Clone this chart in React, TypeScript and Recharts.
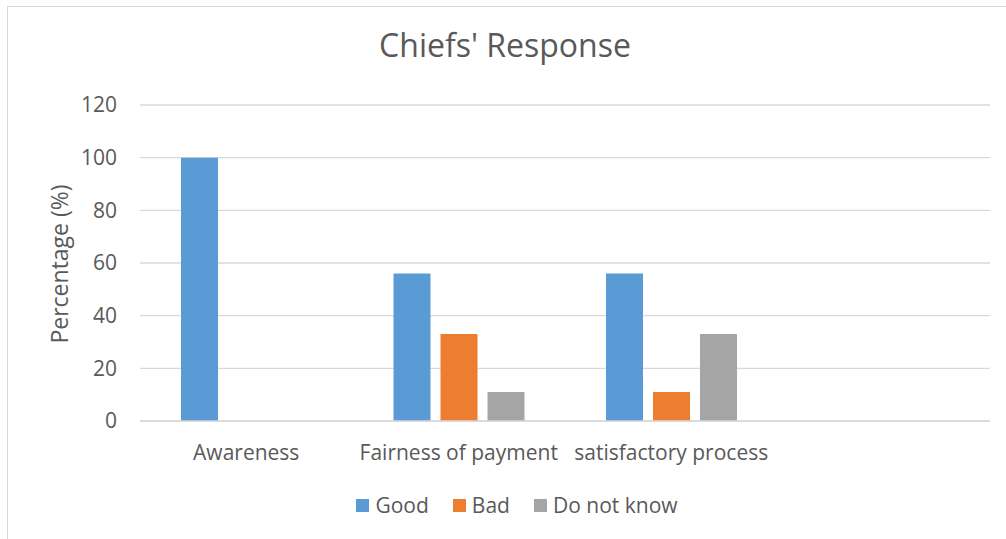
import { Bar, BarChart, CartesianGrid, XAxis, YAxis } from "recharts";

const CATEGORIES = ["Awareness", "Fairness of payment", "satisfactory process", ""];
const GOOD = [100, 56, 56, null];
const BAD = [0, 33, 11, null];
const DO_NOT_KNOW = [0, 11, 33, null];
const Y_TICKS = [0, 20, 40, 60, 80, 100, 120];

const SERIES = [
	{ key: "good", name: "Good", color: "#5B9BD5" },
	{ key: "bad", name: "Bad", color: "#ED7D31" },
	{ key: "dnk", name: "Do not know", color: "#A5A5A5" },
];

const data = CATEGORIES.map((category, i) => ({
	category,
	good: GOOD[i],
	bad: BAD[i],
	dnk: DO_NOT_KNOW[i],
}));

const FONT = "'Open Sans', 'Liberation Sans', sans-serif";
const TEXT = "#595959";

export default function App() {
	return (
		<div style={{ position: "absolute", left: 0, top: 0, width: 1006, height: 539, background: "#fff", overflow: "hidden" }}>
			<div
				style={{
					position: "absolute",
					left: 7,
					top: 6,
					width: 1010,
					height: 540,
					border: "1px solid #D9D9D9",
				}}
			/>
			<div
				style={{
					position: "absolute",
					left: 0,
					width: 1010,
					top: 23,
					textAlign: "center",
					fontFamily: FONT,
					fontSize: 32,
					color: TEXT,
				}}
			>
				Chiefs' Response
			</div>
			<div
				style={{
					position: "absolute",
					left: 59,
					top: 264,
					transform: "translate(-50%, -50%) rotate(-90deg)",
					whiteSpace: "nowrap",
					fontFamily: FONT,
					fontSize: 23,
					color: TEXT,
				}}
			>
				Percentage (%)
			</div>
			<BarChart
				width={1006}
				height={539}
				data={data}
				margin={{ top: 105, right: 16, bottom: 88, left: 0 }}
				barSize={37}
				barGap={10}
				style={{ position: "absolute", left: 0, top: 0 }}
			>
				<CartesianGrid vertical={false} stroke="#D9D9D9" strokeWidth={1.3} />
				<XAxis
					dataKey="category"
					height={30}
					axisLine={{ stroke: "#D9D9D9", strokeWidth: 1.5 }}
					tickLine={false}
					tickMargin={18}
					interval={0}
					tick={{ fill: TEXT, fontSize: 21, fontFamily: FONT }}
				/>
				<YAxis
					width={140}
					domain={[0, 120]}
					ticks={Y_TICKS}
					axisLine={false}
					tickLine={false}
					tickSize={0}
					tickMargin={23}
					tick={{ fill: TEXT, fontSize: 21, fontFamily: FONT }}
				/>
				{SERIES.map((s) => (
					<Bar key={s.key} dataKey={s.key} name={s.name} fill={s.color} isAnimationActive={false} />
				))}
			</BarChart>
			<div
				style={{
					position: "absolute",
					left: 4,
					width: 1026,
					top: 491,
					display: "flex",
					justifyContent: "center",
					gap: 24,
					fontFamily: FONT,
					fontSize: 21,
					color: TEXT,
				}}
			>
				{SERIES.map((s) => (
					<div key={s.key} style={{ display: "flex", alignItems: "center", gap: 6 }}>
						<span style={{ display: "inline-block", width: 13, height: 13, background: s.color }} />
						<span>{s.name}</span>
					</div>
				))}
			</div>
		</div>
	);
}
